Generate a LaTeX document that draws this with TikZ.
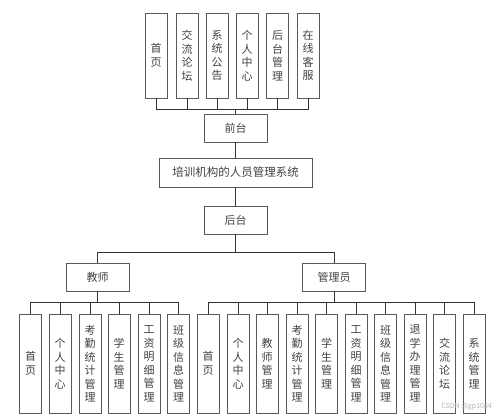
\documentclass[tikz,border=0pt]{standalone}
\usepackage{fontspec}
\setmainfont{Noto Sans CJK SC}
\tikzset{
  box/.style={draw=black!65, line width=0.7pt, text=black!75, inner sep=0pt, align=center,
    font=\fontsize{11pt}{13.5pt}\selectfont},
  tall/.style={box, minimum width=22pt, minimum height=85pt},
  low/.style={box, minimum width=22pt, minimum height=99pt},
  wide/.style={box, minimum width=63pt, minimum height=28pt},
  link/.style={draw=black!80, line width=0.7pt}
}
\begin{document}
\begin{tikzpicture}[x=1pt,y=-1pt]
    \useasboundingbox (0,0) rectangle (500,416);
    % front end
    \node[tall] (F1) at (156,55.5) {首\\页};
    \node[tall] (F2) at (187,55.5) {交\\流\\论\\坛};
    \node[tall] (F3) at (217,55.5) {系\\统\\公\\告};
    \node[tall] (F4) at (247,55.5) {个\\人\\中\\心};
    \node[tall] (F5) at (277.5,55.5) {后\\台\\管\\理};
    \node[tall] (F6) at (308,55.5) {在\\线\\客\\服};
    \node[wide] (F) at (235.5,128) {前台};
    \node[box, minimum width=153pt, minimum height=29pt, font=\fontsize{11.5pt}{13.5pt}\selectfont] (S) at (235.5,172.5) {培训机构的人员管理系统};
    \node[wide] (B) at (235.5,220) {后台};
    \node[wide] (T) at (97.5,277) {教师};
    \node[wide] (M) at (334,277) {管理员};
    % teacher
    \node[low] (T1) at (30.5,363.5) {首\\页};
    \node[low] (T2) at (60,363.5) {个\\人\\中\\心};
    \node[low] (T3) at (90,363.5) {考\\勤\\统\\计\\管\\理};
    \node[low] (T4) at (119,363.5) {学\\生\\管\\理};
    \node[low] (T5) at (149,363.5) {工\\资\\明\\细\\管\\理};
    \node[low] (T6) at (178.5,363.5) {班\\级\\信\\息\\管\\理};
    % admin
    \node[low] (M1) at (208,363.5) {首\\页};
    \node[low] (M2) at (238,363.5) {个\\人\\中\\心};
    \node[low] (M3) at (267,363.5) {教\\师\\管\\理};
    \node[low] (M4) at (297,363.5) {考\\勤\\统\\计\\管\\理};
    \node[low] (M5) at (326.5,363.5) {学\\生\\管\\理};
    \node[low] (M6) at (356,363.5) {工\\资\\明\\细\\管\\理};
    \node[low] (M7) at (385.5,363.5) {班\\级\\信\\息\\管\\理};
    \node[low] (M8) at (415,363.5) {退\\学\\办\\理\\管\\理};
    \node[low] (M9) at (444.5,363.5) {交\\流\\论\\坛};
    \node[low] (M10) at (474,363.5) {系\\统\\管\\理};
    \node[text=black!30, font=\fontsize{7pt}{8pt}\selectfont, anchor=east, inner sep=0pt] (wm) at (492,407) {CSDN @gp1084};
    % bus levels
    \coordinate (FB) at (0,109);
    \coordinate (BB) at (0,252);
    \coordinate (TB) at (0,302);
    \draw[link] (F1.south) -- (F1.south |- FB) -| (F.north);
    \draw[link] (F2.south) -- (F2.south |- FB) -| (F.north);
    \draw[link] (F3.south) -- (F3.south |- FB) -| (F.north);
    \draw[link] (F4.south) -- (F4.south |- FB) -| (F.north);
    \draw[link] (F5.south) -- (F5.south |- FB) -| (F.north);
    \draw[link] (F6.south) -- (F6.south |- FB) -| (F.north);
    \draw[link] (F.south) -- (S.north);
    \draw[link] (S.south) -- (B.north);
    \draw[link] (B.south) -- (B.south |- BB) -| (T.north);
    \draw[link] (B.south) -- (B.south |- BB) -| (M.north);
    \draw[link] (T.south) -- (T.south |- TB) -| (T1.north);
    \draw[link] (T.south) -- (T.south |- TB) -| (T2.north);
    \draw[link] (T.south) -- (T.south |- TB) -| (T3.north);
    \draw[link] (T.south) -- (T.south |- TB) -| (T4.north);
    \draw[link] (T.south) -- (T.south |- TB) -| (T5.north);
    \draw[link] (T.south) -- (T.south |- TB) -| (T6.north);
    \draw[link] (M.south) -- (M.south |- TB) -| (M1.north);
    \draw[link] (M.south) -- (M.south |- TB) -| (M2.north);
    \draw[link] (M.south) -- (M.south |- TB) -| (M3.north);
    \draw[link] (M.south) -- (M.south |- TB) -| (M4.north);
    \draw[link] (M.south) -- (M.south |- TB) -| (M5.north);
    \draw[link] (M.south) -- (M.south |- TB) -| (M6.north);
    \draw[link] (M.south) -- (M.south |- TB) -| (M7.north);
    \draw[link] (M.south) -- (M.south |- TB) -| (M8.north);
    \draw[link] (M.south) -- (M.south |- TB) -| (M9.north);
    \draw[link] (M.south) -- (M.south |- TB) -| (M10.north);
\end{tikzpicture}
\end{document}
